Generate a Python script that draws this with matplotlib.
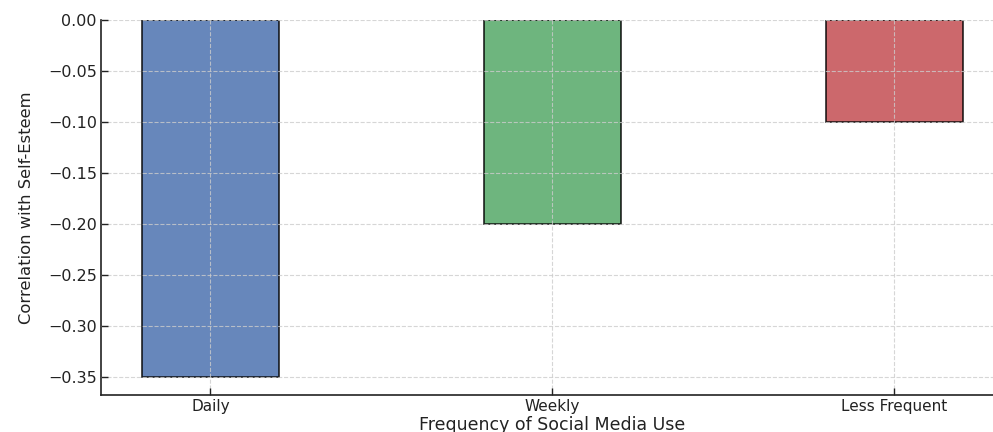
import matplotlib
matplotlib.use("Agg")
import matplotlib.pyplot as plt

# correlation of self-esteem with each usage frequency
categories = ["Daily", "Weekly", "Less Frequent"]
correlations = [-0.35, -0.20, -0.10]
bar_colors = ["#4C72B0", "#55A868", "#C44E52"]
y_ticks = [0.00, -0.05, -0.10, -0.15, -0.20, -0.25, -0.30, -0.35]

fig = plt.figure(figsize=(9.93, 4.32), dpi=100)
ax = fig.add_axes([101 / 993, 37 / 432, 902.6 / 993, 375 / 432])

x = range(len(categories))
ax.bar(x, correlations, width=0.4, color=bar_colors, alpha=0.85,
       edgecolor="black", linewidth=1.2)

ax.set_xticks(list(x))
ax.set_xticklabels(categories, fontsize=11, color="#222222")
ax.set_yticks(y_ticks)
ax.set_yticklabels([f"{v:.2f}".replace("-", "\u2212") for v in y_ticks],
                   fontsize=11.5, color="#222222")
ax.tick_params(direction="in", length=5, width=1, color="#222222")
ax.tick_params(axis="y", pad=3)
ax.tick_params(axis="x", pad=3)

ax.set_xlabel("Frequency of Social Media Use", fontsize=12.5, color="#222222", labelpad=1)
ax.set_ylabel("Correlation with Self-Esteem", fontsize=11.8, color="#222222",
              family=["Liberation Sans Narrow", "DejaVu Sans"], labelpad=10)

# dashed grid drawn over the bars
ax.set_axisbelow(False)
ax.grid(True, linestyle="--", color="#cccccc", linewidth=0.8, alpha=0.8)

for side in ["top", "right"]:
    ax.spines[side].set_visible(False)
for side in ["left", "bottom"]:
    ax.spines[side].set_color("#222222")
    ax.spines[side].set_linewidth(1.2)

fig.text(555 / 993, 437 / 432,
         "Frequency of Social Media Use vs. Correlation with Self-Esteem",
         ha="center", va="baseline", fontsize=15, fontweight="bold")

fig.savefig("out.png", dpi=100)
